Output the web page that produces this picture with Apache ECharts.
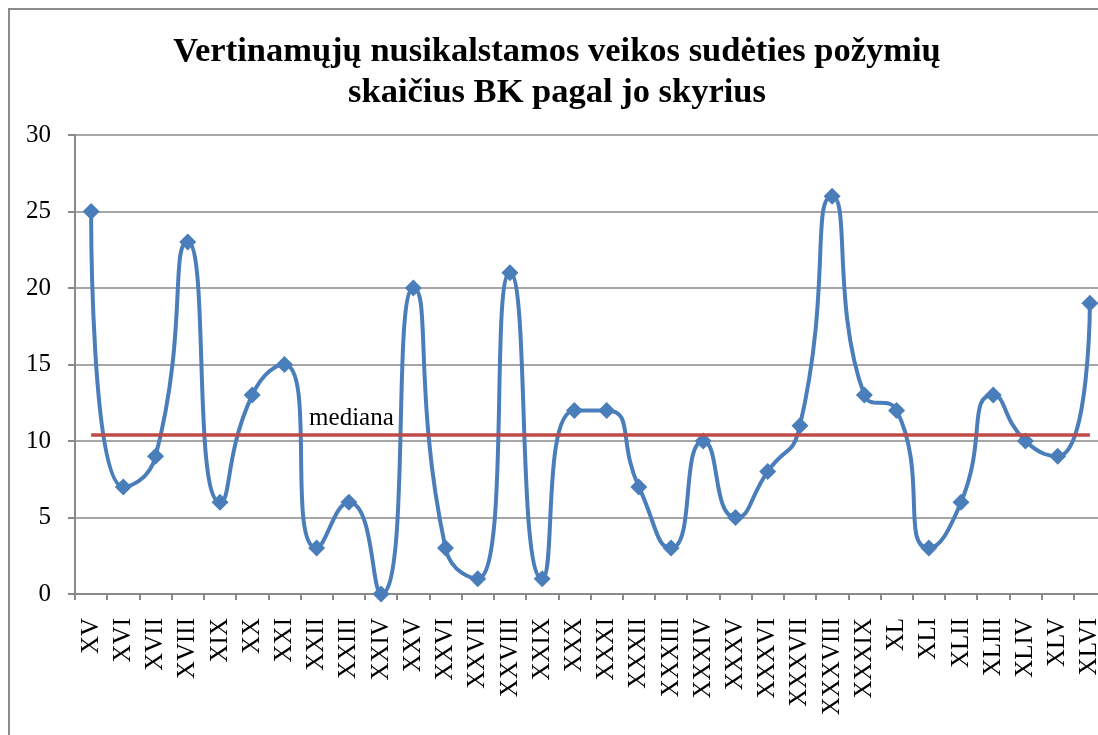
<!DOCTYPE html>
<html style="height: 100%;width:100%">
	<head>
		<meta charset="utf-8">
	</head>
	<body style="height: 100%; width:100%; margin:0; background:#fff; overflow:hidden">
		<div id="chart-panel" style="height: 735px;width: 1120px"></div>
		<script type="text/javascript" src="https://cdn.jsdelivr.net/npm/echarts@6/dist/echarts.min.js"></script>
		<script type="text/javascript">
			var dom = document.getElementById("chart-panel");
			var myChart = echarts.init(dom);
			var serif = "'Liberation Serif', 'Times New Roman', serif";

			// skyriai (categories)
			let chapters = ['XV', 'XVI', 'XVII', 'XVIII', 'XIX', 'XX', 'XXI', 'XXII', 'XXIII', 'XXIV',
				'XXV', 'XXVI', 'XXVII', 'XXVIII', 'XXIX', 'XXX', 'XXXI', 'XXXII', 'XXXIII', 'XXXIV',
				'XXXV', 'XXXVI', 'XXXVII', 'XXXVIII', 'XXXIX', 'XL', 'XLI', 'XLII', 'XLIII', 'XLIV',
				'XLV', 'XLVI'];
			// požymių skaičius
			let counts = [25, 7, 9, 23, 6, 13, 15, 3, 6, 0,
				20, 3, 1, 21, 1, 12, 12, 7, 3, 10,
				5, 8, 11, 26, 13, 12, 3, 6, 13, 10,
				9, 19];
			let medianValue = 10.4;
			let medianLabel = 'mediana';
			let yTicks = [0, 5, 10, 15, 20, 25, 30];

			var option = {
				backgroundColor: '#fff',
				animation: false,
				title: {
					text: 'Vertinamųjų nusikalstamos veikos sudėties požymių\nskaičius BK pagal jo skyrius',
					left: 552,
					top: 27,
					textAlign: 'center',
					textStyle: {
						fontFamily: serif,
						fontWeight: 'bold',
						fontSize: 34.5,
						lineHeight: 41,
						color: '#000'
					}
				},
				graphic: [{
					type: 'rect',
					shape: { x: 9, y: 9, width: 1300, height: 800 },
					style: { fill: 'none', stroke: '#8c8c8c', lineWidth: 2 },
					z: -1
				}],
				grid: {
					left: 75,
					right: 14,
					top: 135,
					bottom: 141
				},
				xAxis: {
					type: 'category',
					data: chapters,
					boundaryGap: true,
					axisLine: { lineStyle: { color: '#898989', width: 2 } },
					axisTick: { show: true, length: 6, lineStyle: { color: '#898989', width: 2 } },
					axisLabel: {
						interval: 0,
						rotate: 90,
						margin: 24,
						fontFamily: serif,
						fontSize: 25,
						color: '#000'
					}
				},
				yAxis: {
					type: 'value',
					min: yTicks[0],
					max: yTicks[yTicks.length - 1],
					interval: 5,
					axisLine: { show: true, lineStyle: { color: '#898989', width: 2 } },
					axisTick: { show: true, length: 7, lineStyle: { color: '#898989', width: 2 } },
					axisLabel: {
						margin: 24,
						fontFamily: serif,
						fontSize: 25,
						color: '#000'
					},
					splitLine: { lineStyle: { color: '#898989', width: 1.5 } }
				},
				series: [{
					name: 'skaičius',
					type: 'line',
					data: counts,
					smooth: 0.6,
					symbol: 'diamond',
					symbolSize: 17,
					lineStyle: { color: '#4a7ebb', width: 4 },
					itemStyle: { color: '#4a7ebb' },
					emphasis: { disabled: true },
					z: 3,
					markLine: {
						silent: true,
						symbol: ['none', 'none'],
						lineStyle: { color: '#be4b48', width: 3.5, type: 'solid' },
						label: {
							show: true,
							position: 'insideStartTop',
							distance: [218, 4],
							formatter: medianLabel,
							fontFamily: serif,
							fontSize: 25,
							color: '#000'
						},
						data: [[
							{ coord: [chapters[0], medianValue] },
							{ coord: [chapters[chapters.length - 1], medianValue] }
						]]
					}
				}]
			};
			myChart.setOption(option);
		</script>
	</body>
</html>
